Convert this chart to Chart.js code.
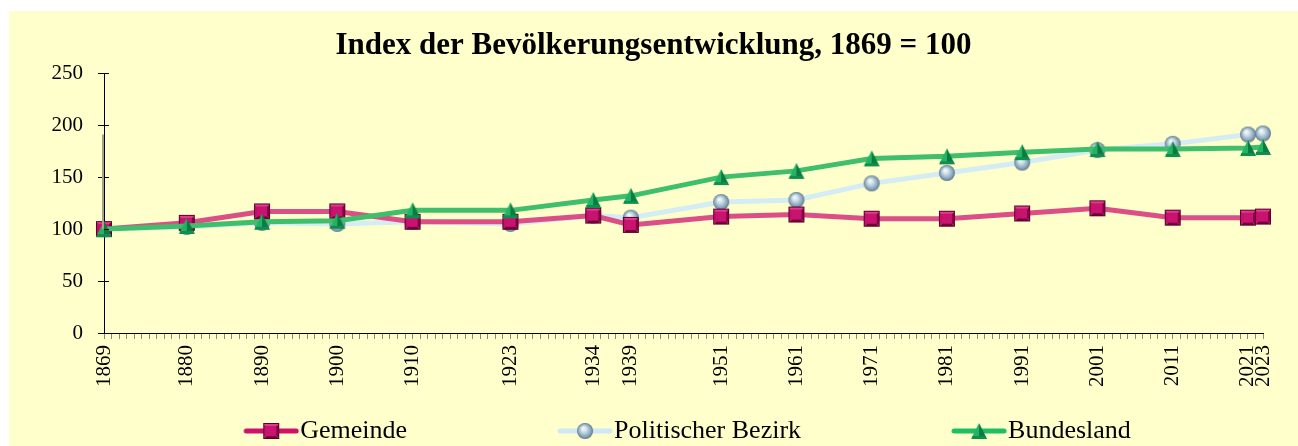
<!DOCTYPE html>
<html>
<head>
<meta charset="utf-8">
<script src="https://cdn.jsdelivr.net/npm/chart.js@4"></script>
<style>
    body { margin: 0; background: #fff; }
    #wrap { position: absolute; left: 9px; top: 11px; width: 1289px; height: 435px; background: #FFFFCC; }
</style>
</head>
<body>
<div id="wrap"><canvas id="popChart" width="1289" height="435"></canvas></div>
<script>
var years = [1869, 1880, 1890, 1900, 1910, 1923, 1934, 1939, 1951, 1961, 1971, 1981, 1991, 2001, 2011, 2021, 2023];
var gemeinde = [100, 106, 117, 117, 107, 107, 113, 104, 112, 114, 110, 110, 115, 120, 111, 111, 112];
var bezirk = [100, 102, 106, 105, 107, 105, 113, 111, 126, 128, 144, 154, 164, 176, 182, 191, 192];
var bundesland = [100, 103, 107, 108, 118, 118, 128, 132, 150, 156, 168, 170, 174, 177, 177, 178, 179];
var yTicks = [0, 50, 100, 150, 200, 250];

var serif = 'Liberation Serif';

function points(values) {
    return years.map((y, i) => ({ x: y, y: values[i] }));
}

// marker drawing helpers
function drawSquare(c, cx, cy, s) {
    var h = s / 2;
    var parts = [
        ['#E23A8E', [[-h, -h], [h, -h], [0, 0]]],
        ['#C4106A', [[-h, -h], [-h, h], [0, 0]]],
        ['#8E0046', [[h, -h], [h, h], [0, 0]]],
        ['#74003A', [[-h, h], [h, h], [0, 0]]]
    ];
    parts.forEach(p => {
        c.fillStyle = p[0];
        c.beginPath();
        p[1].forEach((pt, i) => i ? c.lineTo(cx + pt[0], cy + pt[1]) : c.moveTo(cx + pt[0], cy + pt[1]));
        c.closePath();
        c.fill();
    });
    c.fillStyle = '#C8146E';
    c.fillRect(cx - h + 3, cy - h + 3, s - 6, s - 6);
    c.strokeStyle = '#5A0030';
    c.lineWidth = 1;
    c.strokeRect(cx - h + 0.5, cy - h + 0.5, s - 1, s - 1);
}

function drawSphere(c, cx, cy, r) {
    var g = c.createRadialGradient(cx - 2, cy - 3, 0, cx, cy, r);
    g.addColorStop(0, '#FFFFFF');
    g.addColorStop(0.35, '#CFE0EA');
    g.addColorStop(0.8, '#86A2B8');
    g.addColorStop(1, '#5C7488');
    c.fillStyle = g;
    c.beginPath();
    c.arc(cx, cy, r, 0, Math.PI * 2);
    c.fill();
}

function drawTriangle(c, cx, cy, w, h) {
    c.fillStyle = '#22B462';
    c.beginPath();
    c.moveTo(cx, cy - h / 2);
    c.lineTo(cx - w / 2, cy + h / 2);
    c.lineTo(cx, cy + h / 2);
    c.closePath();
    c.fill();
    c.fillStyle = '#0A7C42';
    c.beginPath();
    c.moveTo(cx, cy - h / 2);
    c.lineTo(cx + w / 2, cy + h / 2);
    c.lineTo(cx, cy + h / 2);
    c.closePath();
    c.fill();
    c.fillStyle = '#118E4E';
    c.fillRect(cx - w / 2 + 1, cy + h / 2 - 3, w - 2, 3);
}

function markerImage(kind) {
    var cv = document.createElement('canvas');
    cv.width = 18;
    cv.height = 18;
    var c = cv.getContext('2d');
    if (kind === 'square') drawSquare(c, 9, 9, 16);
    if (kind === 'sphere') drawSphere(c, 9, 9, 8);
    if (kind === 'triangle') drawTriangle(c, 9, 9, 16, 16);
    return cv;
}

var boxW = 150;
function legendImage(kind, lineColor) {
    var cv = document.createElement('canvas');
    cv.width = boxW + 24;
    cv.height = 20;
    var c = cv.getContext('2d');
    var x0 = cv.width - 56;
    c.strokeStyle = lineColor;
    c.lineWidth = 5;
    c.lineCap = 'round';
    c.beginPath();
    c.moveTo(x0 + 3, 10);
    c.lineTo(cv.width - 3, 10);
    c.stroke();
    var mx = x0 + 28;
    if (kind === 'square') drawSquare(c, mx, 10, 16);
    if (kind === 'sphere') drawSphere(c, mx, 10, 8);
    if (kind === 'triangle') drawTriangle(c, mx, 10, 16, 16);
    return cv;
}

var gemeindeLine = '#DC4E86';
var bezirkLine = '#D4ECF4';
var bundeslandLine = '#3FBE6C';

var legendImgs = [
    legendImage('square', '#D0106A'),
    legendImage('sphere', '#CDE8F6'),
    legendImage('triangle', '#1CC062')
];
var pad = '\u00A0\u00A0\u00A0\u00A0\u00A0\u00A0';

// inner half of the y ticks + the grey drop line near the axis
var axisExtras = {
    id: 'axisExtras',
    afterDraw(chart) {
        var c = chart.ctx;
        var xs = chart.scales.x, ys = chart.scales.y;
        var x0 = xs.getPixelForValue(1869);
        c.save();
        c.strokeStyle = '#000';
        c.lineWidth = 1;
        yTicks.forEach(v => {
            var py = Math.round(ys.getPixelForValue(v)) + 0.5;
            c.beginPath();
            c.moveTo(x0, py);
            c.lineTo(x0 + 5, py);
            c.stroke();
        });
        c.strokeStyle = '#A8A27E';
        c.lineWidth = 2;
        c.beginPath();
        c.moveTo(x0 - 1, ys.getPixelForValue(191));
        c.lineTo(x0 - 1, ys.getPixelForValue(100));
        c.stroke();
        c.restore();
    }
};

var ctx = document.getElementById('popChart').getContext('2d');
var popChart = new Chart(ctx, {
    type: 'line',
    data: {
        datasets: [
            {
                label: 'Gemeinde',
                data: points(gemeinde),
                borderColor: gemeindeLine,
                borderWidth: 5,
                pointStyle: markerImage('square'),
                pointRadius: 8,
                tension: 0,
                clip: false,
                order: 2
            },
            {
                label: 'Politischer Bezirk',
                data: points(bezirk),
                borderColor: bezirkLine,
                borderWidth: 5,
                pointStyle: markerImage('sphere'),
                pointRadius: 8,
                tension: 0,
                clip: false,
                order: 3
            },
            {
                label: 'Bundesland',
                data: points(bundesland),
                borderColor: bundeslandLine,
                borderWidth: 5,
                pointStyle: markerImage('triangle'),
                pointRadius: 8,
                tension: 0,
                clip: false,
                order: 1
            }
        ]
    },
    options: {
        responsive: false,
        animation: false,
        layout: {
            padding: { left: 0, right: 0, top: 0, bottom: -8 }
        },
        plugins: {
            title: {
                display: true,
                text: 'Index der Bevölkerungsentwicklung, 1869 = 100',
                color: '#000',
                font: { family: serif, size: 31, weight: 'bold' },
                padding: { top: 16, bottom: 9 }
            },
            legend: {
                position: 'bottom',
                labels: {
                    color: '#000',
                    font: { family: serif, size: 26 },
                    usePointStyle: true,
                    pointStyleWidth: boxW,
                    padding: 5,
                    generateLabels: (chart) => chart.data.datasets.map((ds, i) => ({
                        text: ds.label + pad,
                        pointStyle: legendImgs[i],
                        fillStyle: 'transparent',
                        strokeStyle: 'transparent',
                        lineWidth: 0,
                        fontColor: '#000',
                        hidden: !chart.isDatasetVisible(i),
                        datasetIndex: i
                    }))
                }
            },
            tooltip: { enabled: false }
        },
        scales: {
            x: {
                type: 'linear',
                min: 1869,
                max: 2023,
                afterBuildTicks: (scale) => {
                    var t = [];
                    for (var y = 1869; y <= 2023; y++) t.push({ value: y });
                    scale.ticks = t;
                },
                afterFit: (scale) => { scale.height = 80; },
                ticks: {
                    autoSkip: false,
                    minRotation: 90,
                    maxRotation: 90,
                    padding: 6,
                    color: '#000',
                    font: { family: serif, size: 21 },
                    callback: (v) => years.indexOf(v) >= 0 ? String(v) : ''
                },
                grid: {
                    drawOnChartArea: false,
                    tickLength: 6,
                    color: '#8A8A7A'
                },
                border: { color: '#000', width: 1 }
            },
            y: {
                min: 0,
                max: 250,
                afterBuildTicks: (scale) => {
                    scale.ticks = yTicks.map(v => ({ value: v }));
                },
                afterFit: (scale) => { scale.width = 95; },
                ticks: {
                    padding: 15,
                    color: '#000',
                    font: { family: serif, size: 21 }
                },
                grid: {
                    drawOnChartArea: false,
                    tickLength: 6,
                    color: '#000'
                },
                border: { color: '#000', width: 1 }
            },
            // empty right-hand axis, only reserves the space right of 2023
            yRight: {
                position: 'right',
                min: 0,
                max: 250,
                afterFit: (scale) => { scale.width = 35; },
                ticks: { display: false },
                grid: { display: false },
                border: { display: false }
            }
        }
    },
    plugins: [axisExtras]
});
</script>
</body>
</html>
